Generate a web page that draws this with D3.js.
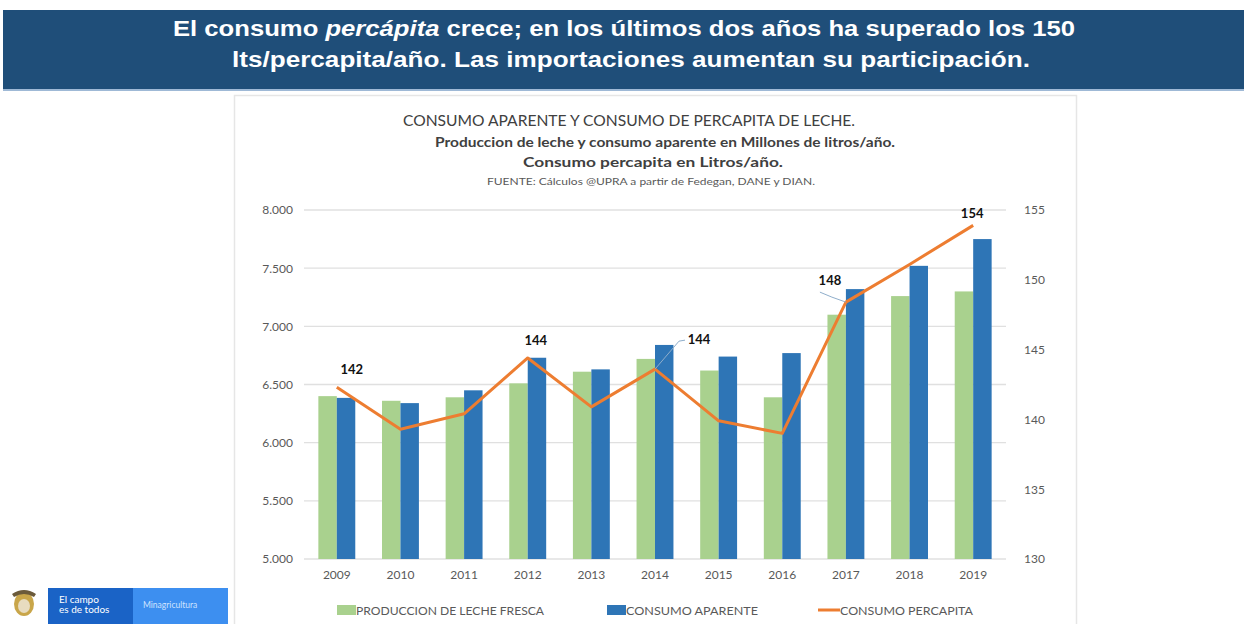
<!DOCTYPE html>
<html><head><meta charset="utf-8">
<script src="https://cdn.jsdelivr.net/npm/d3@7"></script>
<style>
html,body{margin:0;padding:0;background:#fff;}
svg{display:block;}
</style></head>
<body>
<svg id="c" width="1244" height="624"></svg>
<script>
const years = ["2009","2010","2011","2012","2013","2014","2015","2016","2017","2018","2019"];
const produccion = [6400,6360,6390,6510,6610,6720,6620,6390,7100,7260,7300];
const consumoAparente = [6385,6340,6450,6730,6630,6840,6740,6770,7320,7520,7750];
const consumoPercapita = [142.3,139.3,140.4,144.4,140.9,143.6,139.9,139.0,148.4,151.1,153.9];
const labeledYears = ["2009","2012","2014","2017","2019"];
const leftTicks = [5000,5500,6000,6500,7000,7500,8000];
const rightTicks = [130,135,140,145,150,155];
const seriesNames = ["PRODUCCION DE LECHE FRESCA","CONSUMO APARENTE","CONSUMO PERCAPITA"];
const headerLines = ["El consumo ", "percápita", " crece; en los últimos dos años ha superado los 150", "lts/percapita/año. Las importaciones aumentan su participación."];
const titleLines = ["CONSUMO APARENTE Y CONSUMO DE PERCAPITA DE LECHE.","Produccion de leche y consumo aparente en Millones de litros/año.","Consumo percapita en Litros/año.","FUENTE: Cálculos @UPRA a partir de Fedegan, DANE y DIAN."];

const svg = d3.select("#c");
const GREEN = "#a9d18e", BLUE = "#2e75b6", ORANGE = "#ed7d31";
const FONT = "Lato, 'Open Sans', sans-serif";

// header banner
svg.append("rect").attr("x",3).attr("y",10).attr("width",1241).attr("height",79).attr("fill","#1f4e79");
svg.append("rect").attr("x",3).attr("y",89).attr("width",1241).attr("height",2).attr("fill","#9fb9d6");
const h1 = svg.append("text").attr("x",173).attr("y",36)
  .attr("font-family","'Liberation Sans', Arial, sans-serif").attr("font-weight","bold")
  .attr("font-size",22).attr("fill","#fff").attr("textLength",902).attr("lengthAdjust","spacingAndGlyphs");
h1.append("tspan").text(headerLines[0]);
h1.append("tspan").attr("font-style","italic").text(headerLines[1]);
h1.append("tspan").text(headerLines[2]);
svg.append("text").attr("x",232).attr("y",67)
  .attr("font-family","'Liberation Sans', Arial, sans-serif").attr("font-weight","bold")
  .attr("font-size",22).attr("fill","#fff").attr("textLength",798).attr("lengthAdjust","spacingAndGlyphs")
  .text(headerLines[3]);

// chart panel
svg.append("rect").attr("x",234.5).attr("y",95.5).attr("width",842).attr("height",540)
  .attr("fill","#fff").attr("stroke","#e6e6e6").attr("stroke-width",1.5);

// titles
const tl = [
  {x:403,y:126,w:452,size:14.5,weight:"normal",fill:"#404040"},
  {x:435,y:147,w:460,size:12.5,weight:"bold",fill:"#404040"},
  {x:523,y:167,w:260,size:12.5,weight:"bold",fill:"#404040"},
  {x:487,y:185,w:328,size:10,weight:"normal",fill:"#595959"}
];
titleLines.forEach((t,i)=>{
  svg.append("text").attr("x",tl[i].x).attr("y",tl[i].y).attr("font-family",FONT)
    .attr("font-size",tl[i].size).attr("font-weight",tl[i].weight).attr("fill",tl[i].fill)
    .attr("textLength",tl[i].w).attr("lengthAdjust","spacingAndGlyphs").text(t);
});

// scales
const x = d3.scaleBand().domain(years).range([305,1005]).paddingInner(0.42).paddingOuter(0.21);
const xs = d3.scaleBand().domain(["p","c"]).range([0,x.bandwidth()]);
const yL = d3.scaleLinear().domain([5000,8000]).range([559,210]);
const yR = d3.scaleLinear().domain([130,155]).range([559,210]);

// gridlines
svg.append("g").selectAll("line").data(leftTicks).join("line")
  .attr("x1",304).attr("x2",1006).attr("y1",d=>yL(d)).attr("y2",d=>yL(d))
  .attr("stroke","#e0e0e0").attr("stroke-width",1.3);

// left axis
const fmt = d => d3.format(",")(d).replace(/,/g,".").replace(/^(\d)$/, "$1");
const la = svg.append("g").attr("transform","translate(293,0)")
  .call(d3.axisLeft(yL).tickValues(leftTicks).tickSize(0).tickPadding(0).tickFormat(d=>d3.format(",.0f")(d).replace(/,/g,".")));
la.select(".domain").remove();
la.selectAll("text").attr("font-family",FONT).attr("font-size",12).attr("fill","#595959");

// right axis
const ra = svg.append("g").attr("transform","translate(1024,0)")
  .call(d3.axisRight(yR).tickValues(rightTicks).tickSize(0).tickPadding(0));
ra.select(".domain").remove();
ra.selectAll("text").attr("font-family",FONT).attr("font-size",12).attr("fill","#595959");

// x axis labels
const xa = svg.append("g").attr("transform","translate(0,570)")
  .call(d3.axisBottom(x).tickSize(0).tickPadding(0));
xa.select(".domain").remove();
xa.selectAll("text").attr("font-family",FONT).attr("font-size",12).attr("fill","#595959");

// bars
const g = svg.append("g");
g.selectAll(".bp").data(years).join("rect").attr("class","bp")
  .attr("x",d=>x(d)+xs("p")).attr("width",xs.bandwidth())
  .attr("y",(d,i)=>yL(produccion[i])).attr("height",(d,i)=>yL(5000)-yL(produccion[i]))
  .attr("fill",GREEN);
g.selectAll(".bc").data(years).join("rect").attr("class","bc")
  .attr("x",d=>x(d)+xs("c")).attr("width",xs.bandwidth())
  .attr("y",(d,i)=>yL(consumoAparente[i])).attr("height",(d,i)=>yL(5000)-yL(consumoAparente[i]))
  .attr("fill",BLUE);

// line
const cx = d => x(d)+x.bandwidth()/2;
const line = d3.line().x((d,i)=>cx(years[i])).y(d=>yR(d));
svg.append("path").datum(consumoPercapita).attr("d",line)
  .attr("fill","none").attr("stroke",ORANGE).attr("stroke-width",3).attr("stroke-linejoin","round");

// data labels
const off = {"2009":[15,-13,false],"2012":[8,-13,false],"2014":[44,-25,true],"2017":[-16,-17,true],"2019":[-1,-7,false]};
labeledYears.forEach(yr=>{
  const i = years.indexOf(yr);
  const px = cx(yr), py = yR(consumoPercapita[i]);
  const o = off[yr];
  if (o[2]) {
    const lx = yr==="2014" ? px+24 : px-14;
    const ly = yr==="2014" ? py-28 : py-5;
    const lx2 = yr==="2014" ? px+30 : px-26;
    const ly2 = yr==="2014" ? py-29 : py-10;
    svg.append("polyline").attr("points",`${px},${py} ${lx},${ly} ${lx2},${ly2}`)
      .attr("fill","none").attr("stroke","#8faecb").attr("stroke-width",1);
  }
  svg.append("text").attr("x",px+o[0]).attr("y",py+o[1]).attr("text-anchor","middle")
    .attr("font-family",FONT).attr("font-weight","bold").attr("font-size",13).attr("fill","#111")
    .text(Math.round(consumoPercapita[i]));
});

// legend
const lg = svg.append("g").attr("font-family",FONT).attr("font-size",12).attr("fill","#595959");
const legendPos = [337,607,818];
lg.append("rect").attr("x",legendPos[0]).attr("y",605).attr("width",19).attr("height",10).attr("fill",GREEN);
lg.append("rect").attr("x",legendPos[1]).attr("y",605).attr("width",19).attr("height",10).attr("fill",BLUE);
lg.append("line").attr("x1",legendPos[2]).attr("x2",legendPos[2]+22).attr("y1",610).attr("y2",610)
  .attr("stroke",ORANGE).attr("stroke-width",3);
seriesNames.forEach((s,i)=>{
  const w = [188,132,133][i];
  lg.append("text").attr("x",legendPos[i]+(i===2?22:19)).attr("y",614.5).attr("textLength",w)
    .attr("lengthAdjust","spacingAndGlyphs").text(s);
});

// logo
const lo = svg.append("g");
lo.append("rect").attr("x",0).attr("y",585).attr("width",232).attr("height",39).attr("fill","#fff");
lo.append("ellipse").attr("cx",24).attr("cy",604).attr("rx",10).attr("ry",12).attr("fill","#c9a64a");
lo.append("ellipse").attr("cx",24).attr("cy",606).attr("rx",6).attr("ry",7).attr("fill","#e8dcc0");
lo.append("path").attr("d","M12,594 Q24,586 36,594 L34,597 Q24,591 14,597 Z").attr("fill","#6b5a3a");
lo.append("rect").attr("x",48).attr("y",588).attr("width",85).attr("height",36).attr("fill","#1a63c6");
lo.append("rect").attr("x",133).attr("y",588).attr("width",95).attr("height",36).attr("fill","#3d8ff0");
lo.append("text").attr("x",59).attr("y",603).attr("font-family",FONT).attr("font-size",10).attr("fill","#fff").text("El campo");
lo.append("text").attr("x",59).attr("y",613).attr("font-family",FONT).attr("font-size",10).attr("fill","#fff").text("es de todos");
lo.append("text").attr("x",143).attr("y",608).attr("font-family",FONT).attr("font-size",8.5).attr("fill","#cfe3ff").text("Minagricultura");
</script>
</body></html>
